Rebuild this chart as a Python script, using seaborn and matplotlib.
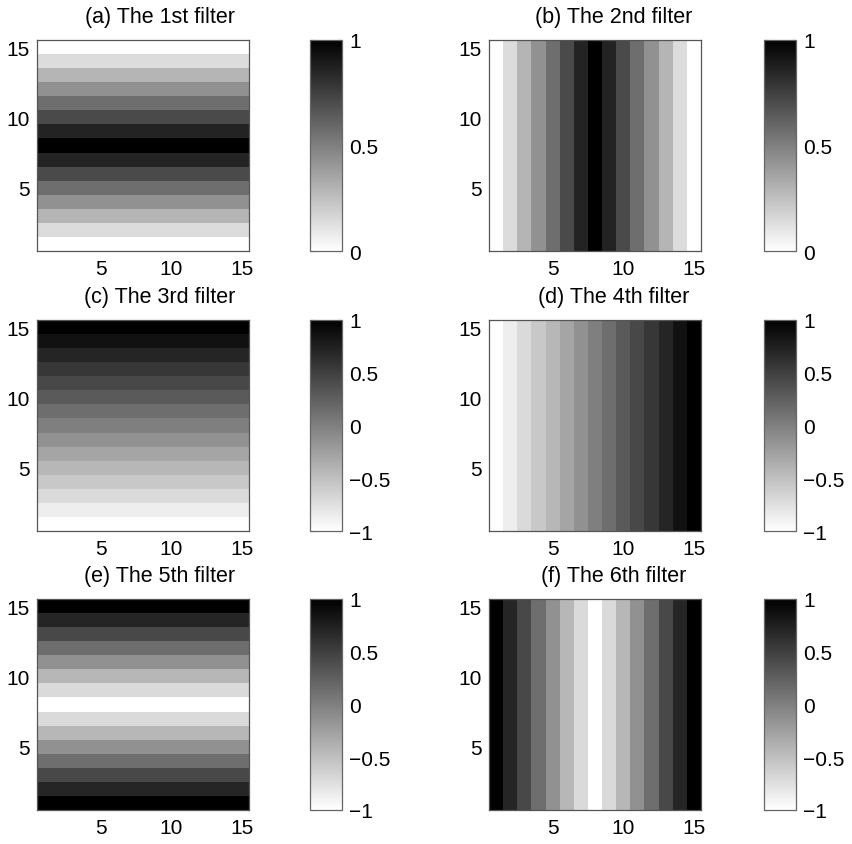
import numpy as np
import pandas as pd
import matplotlib
matplotlib.use("Agg")
import matplotlib.pyplot as plt
import seaborn as sns

sns.set_style("white")
plt.rcParams['font.family'] = ['Liberation Sans', 'DejaVu Sans']
plt.rcParams['text.color'] = 'black'
plt.rcParams['xtick.color'] = 'black'
plt.rcParams['ytick.color'] = 'black'
plt.rcParams['axes.labelcolor'] = 'black'

# Profiles (cell 1..15)
tri = [0.0, 0.14, 0.29, 0.43, 0.57, 0.71, 0.86, 1.0, 0.86, 0.71, 0.57, 0.43, 0.29, 0.14, 0.0]
ramp = [-1.0, -0.86, -0.71, -0.57, -0.43, -0.29, -0.14, 0.0, 0.14, 0.29, 0.43, 0.57, 0.71, 0.86, 1.0]
vee = [1.0, 0.71, 0.43, 0.14, -0.14, -0.43, -0.71, -1.0, -0.71, -0.43, -0.14, 0.14, 0.43, 0.71, 1.0]

titles = ["(a) The 1st filter", "(b) The 2nd filter", "(c) The 3rd filter",
          "(d) The 4th filter", "(e) The 5th filter", "(f) The 6th filter"]
profiles = [tri, tri, ramp, ramp, vee, vee]
orient = ["rows", "cols", "rows", "cols", "rows", "cols"]
vranges = [(0, 1), (0, 1), (-1, 1), (-1, 1), (-1, 1), (-1, 1)]
cbar_ticks_01 = [0, 0.5, 1]
cbar_labels_01 = ["0", "0.5", "1"]
cbar_ticks_11 = [-1, -0.5, 0, 0.5, 1]
cbar_labels_11 = ["\u22121", "\u22120.5", "0", "0.5", "1"]
axis_ticks = [5, 10, 15]

n = 15
W, H = 853, 845
fig = plt.figure(figsize=(W / 100, H / 100), dpi=100)

ax_lefts = [37, 489]
cb_lefts = [310, 764]
ax_bottoms = [252, 532, 811]
title_x = [0.58, 0.59]
ax_w, ax_h = 212, 211
cb_w = 32
fs = 15

for k in range(6):
    r, c = divmod(k, 2)
    left = ax_lefts[c] / W
    bottom = 1 - ax_bottoms[r] / H
    ax = fig.add_axes([left, bottom, ax_w / W, ax_h / H])
    cax = fig.add_axes([cb_lefts[c] / W, bottom, cb_w / W, ax_h / H])
    p = np.array(profiles[k])
    if orient[k] == "rows":
        M = np.repeat(p[:, None], n, axis=1)
    else:
        M = np.repeat(p[None, :], n, axis=0)
    df = pd.DataFrame(M, index=range(1, n + 1), columns=range(1, n + 1))
    vmin, vmax = vranges[k]
    sns.heatmap(df, ax=ax, cmap="gray_r", vmin=vmin, vmax=vmax, cbar_ax=cax,
                xticklabels=False, yticklabels=False, linewidths=0)
    ax.set_ylim(0, n)
    ax.set_xlim(0, n)
    ax.set_xticks([t - 0.5 for t in axis_ticks])
    ax.set_xticklabels([str(t) for t in axis_ticks], fontsize=fs, rotation=0)
    ax.set_yticks([t - 0.5 for t in axis_ticks])
    ax.set_yticklabels([str(t) for t in axis_ticks], fontsize=fs, rotation=0)
    ax.set_xlabel("")
    ax.set_ylabel("")
    ax.tick_params(axis="both", direction="in", length=3, width=0.8, color="#333333",
                   top=True, right=True, bottom=True, left=True)
    ax.tick_params(axis="x", pad=6)
    ax.tick_params(axis="y", pad=5)
    for s in ax.spines.values():
        s.set_visible(True)
        s.set_color("#555555")
        s.set_linewidth(0.9)
    ax.set_title(titles[k], fontsize=15.5, pad=13, color="black", x=title_x[c])

    cb = ax.collections[0].colorbar
    cb.outline.set_linewidth(0.9)
    cb.outline.set_edgecolor("#666666")
    if vmin == 0:
        cb.set_ticks(cbar_ticks_01)
        cb.set_ticklabels(cbar_labels_01)
    else:
        cb.set_ticks(cbar_ticks_11)
        cb.set_ticklabels(cbar_labels_11)
    cax.tick_params(direction="in", length=3, width=0.8, color="#333333",
                    left=True, right=True, labelsize=fs, pad=5, labelcolor="black")

fig.savefig("out.png", dpi=100)
